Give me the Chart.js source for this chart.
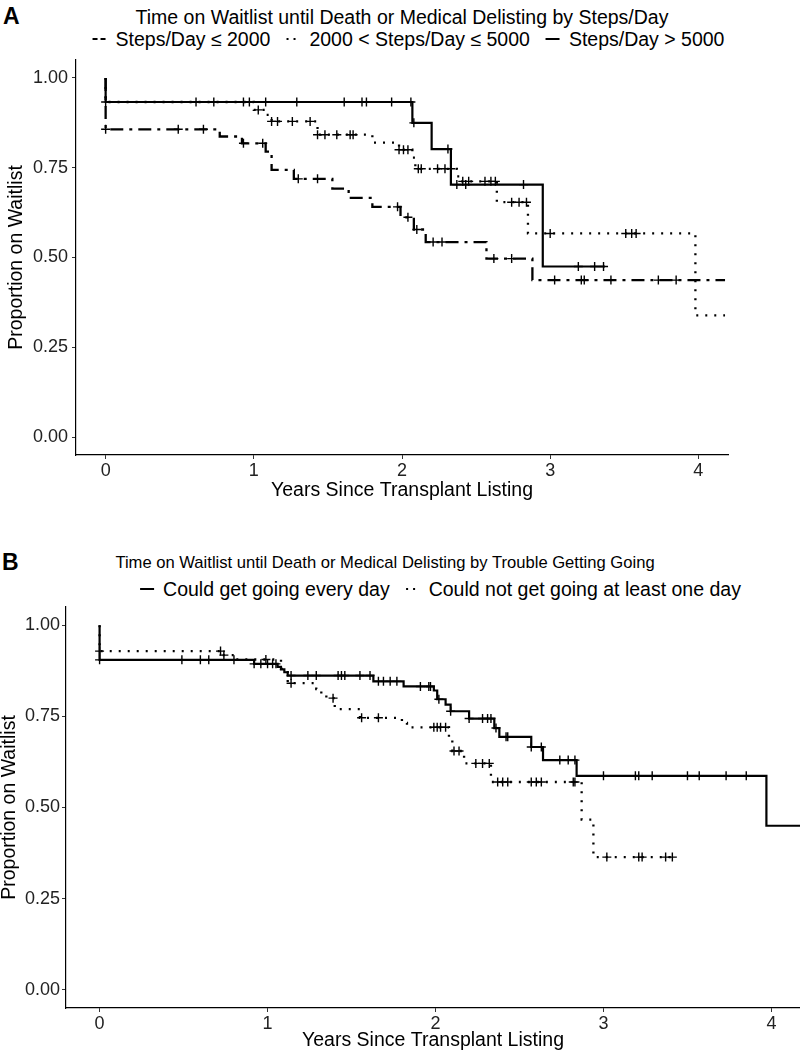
<!DOCTYPE html>
<html>
<head>
<meta charset="utf-8">
<script src="https://cdn.jsdelivr.net/npm/chart.js@4.4.1/dist/chart.umd.min.js"></script>
<style>
  body { margin: 0; width: 800px; height: 1052px; position: relative; background: #fff; overflow: hidden;
         font-family: "Liberation Sans", Arial, sans-serif; color: #000; }
  .tag { position: absolute; font-weight: bold; font-size: 23px; line-height: 24px; }
  .title, .legend { position: absolute; font-size: 19.5px; line-height: 22px; white-space: nowrap; transform: translateX(-50%); }
  .legend { display: flex; align-items: center; }
  .legend svg { margin: 0 8px 0 15px; }
  .legend svg:first-child { margin-left: 0; }
  .panel { position: absolute; left: 0; }
</style>
</head>
<body>
<div class="tag" style="left:3px;top:4px">A</div>
<div class="title" style="left:402px;top:6px">Time on Waitlist until Death or Medical Delisting by Steps/Day</div>
<div class="legend" id="legendA" style="left:408px;top:28px"></div>
<div class="panel" style="top:0"><canvas id="chartA" width="800" height="500"></canvas></div>

<div class="tag" style="left:2px;top:550px">B</div>
<div class="title" style="left:385px;top:552px;font-size:16.6px">Time on Waitlist until Death or Medical Delisting by Trouble Getting Going</div>
<div class="legend" id="legendB" style="left:440px;top:578px"></div>
<div class="panel" style="top:540px"><canvas id="chartB" width="800" height="512"></canvas></div>

<script>
// ---- Panel A: steps/day ----
const lowTimes = [0, 0, 0.77, 0.92, 1.08, 1.12, 1.27, 1.53, 1.64, 1.80, 1.99, 2.08, 2.16, 2.57, 2.88, 4.18];
const lowSurv  = [1, 0.857, 0.837, 0.818, 0.795, 0.744, 0.719, 0.692, 0.666, 0.641, 0.612, 0.578, 0.543, 0.497, 0.437, 0.437];
const lowCensor = [0, 0.49, 0.66, 0.93, 1.06, 1.30, 1.43, 1.97, 2.04, 2.10, 2.21, 2.27, 2.62, 2.74, 3.03, 3.21, 3.23, 3.41, 3.73, 3.85];

const midTimes = [0, 0, 1.00, 1.08, 1.12, 1.43, 1.80, 1.98, 2.07, 2.09, 2.37, 2.39, 2.64, 2.85, 3.98, 4.18];
const midSurv  = [1, 0.933, 0.911, 0.897, 0.879, 0.842, 0.82, 0.80, 0.778, 0.747, 0.726, 0.712, 0.654, 0.567, 0.339, 0.339];
const midCensor = [0, 0.93, 0.97, 1.03, 1.12, 1.16, 1.26, 1.38, 1.43, 1.48, 1.56, 1.65, 1.67, 1.98, 2.01, 2.04,
                   2.11, 2.13, 2.24, 2.29, 2.33, 2.41, 2.45, 2.56, 2.60, 2.63, 2.74, 2.79, 2.84, 3.00, 3.51, 3.55, 3.58];

const highTimes = [0, 0, 2.07, 2.20, 2.33, 2.95, 3.37];
const highSurv  = [1, 0.933, 0.875, 0.802, 0.703, 0.475, 0.475];
const highCensor = [0.61, 0.73, 1.08, 1.29, 1.61, 1.73, 1.76, 1.93, 2.06, 2.08, 2.31, 2.37, 2.43, 2.82, 3.19, 3.30, 3.36];

// ---- Panel B: trouble getting going ----
const everyTimes = [0, 0, 0.92, 1.06, 1.08, 1.10, 1.12, 1.63, 1.81, 1.99, 2.01, 2.06, 2.09, 2.20, 2.35, 2.38, 2.57, 2.64, 2.84, 3.97, 4.17];
const everySurv  = [1, 0.905, 0.894, 0.886, 0.879, 0.871, 0.862, 0.846, 0.832, 0.821, 0.797, 0.782, 0.764, 0.744, 0.718, 0.694, 0.666, 0.63, 0.587, 0.45, 0.45];
const everyCensor = [0, 0.49, 0.60, 0.65, 0.80, 0.92, 0.96, 1.00, 1.03, 1.05, 1.14, 1.24, 1.29, 1.42, 1.44, 1.46, 1.55, 1.61,
                     1.66, 1.69, 1.73, 1.77, 1.91, 1.96, 1.97, 2.02, 2.09, 2.20, 2.28, 2.31, 2.33, 2.36, 2.42, 2.43, 2.57,
                     2.63, 2.74, 2.79, 2.83, 3.00, 3.19, 3.21, 3.29, 3.50, 3.57, 3.73, 3.85];

const notTimes = [0, 0, 0.73, 0.80, 1.08, 1.12, 1.29, 1.32, 1.35, 1.40, 1.55, 1.80, 1.83, 2.08, 2.10, 2.17, 2.33, 2.87, 2.94, 3.42];
const notSurv  = [1, 0.929, 0.918, 0.906, 0.88, 0.841, 0.825, 0.812, 0.80, 0.770, 0.746, 0.732, 0.72, 0.689, 0.655, 0.621, 0.570, 0.467, 0.364, 0.364];
const notCensor = [0, 0.72, 0.74, 0.99, 1.14, 1.39, 1.56, 1.66, 1.99, 2.01, 2.03, 2.06, 2.11, 2.14, 2.24, 2.28, 2.32, 2.37,
                   2.40, 2.43, 2.57, 2.60, 2.63, 2.82, 2.83, 3.02, 3.21, 3.23, 3.37, 3.41];

const xTicks = [0, 1, 2, 3, 4];
const yTicks = [0, 0.25, 0.5, 0.75, 1];

const SOLID = [];
const DOTTED = [2, 7];
const DOTDASH = [13, 6, 3, 6];

// value of a step curve at time t
function survAt(times, surv, t) {
  let v = surv[0];
  for (let i = 0; i < times.length; i++) {
    if (times[i] <= t) v = surv[i];
  }
  return v;
}

function curve(label, times, surv, dash, width) {
  return {
    type: "line",
    label: label,
    data: times.map((t, i) => ({ x: t, y: surv[i] })),
    borderColor: "#000",
    borderWidth: width,
    borderDash: dash,
    borderCapStyle: "butt",
    stepped: true,
    pointRadius: 0,
    fill: false,
  };
}

function censor(times, surv, marks) {
  return {
    type: "scatter",
    data: marks.map((t) => ({ x: t, y: survAt(times, surv, t) })),
    pointStyle: "cross",
    pointRadius: 4.5,
    borderColor: "#000",
    borderWidth: 1.4,
    showLine: false,
  };
}

function buildChart(id, datasets, opts) {
  const tickFont = { family: "Liberation Sans", size: 18 };
  const titleFont = { family: "Liberation Sans", size: 19.5, lineHeight: 1 };
  return new Chart(document.getElementById(id), {
    data: { datasets: datasets },
    options: {
      responsive: false,
      animation: false,
      events: [],
      layout: { autoPadding: false, padding: { top: opts.top, right: opts.right, left: 0, bottom: 0 } },
      plugins: { legend: { display: false }, tooltip: { enabled: false } },
      scales: {
        x: {
          type: "linear",
          min: -0.2,
          max: opts.xMax,
          afterBuildTicks: (s) => { s.ticks = xTicks.map((v) => ({ value: v })); },
          afterFit: (s) => { s.height = opts.xHeight; s.paddingLeft = 0; s.paddingRight = 0; },
          grid: { display: true, drawOnChartArea: false, drawTicks: true, tickLength: 4, color: "#333" },
          border: { display: true, color: "#000", width: 1.2 },
          ticks: { font: tickFont, color: "#222", padding: 1, maxRotation: 0 },
          title: { display: true, text: "Years Since Transplant Listing", font: titleFont, color: "#000", padding: { top: 0, bottom: opts.xTitlePad } },
        },
        y: {
          type: "linear",
          min: -0.05,
          max: 1.05,
          afterBuildTicks: (s) => { s.ticks = yTicks.map((v) => ({ value: v })); },
          afterFit: (s) => { s.width = opts.yWidth; },
          grid: { display: true, drawOnChartArea: false, drawTicks: true, tickLength: 4, color: "#333" },
          border: { display: true, color: "#000", width: 1.2 },
          ticks: { font: tickFont, color: "#222", padding: opts.yTickPad, callback: (v) => v.toFixed(2) },
          title: { display: true, text: "Proportion on Waitlist", font: titleFont, color: "#000", padding: { top: opts.yTitlePad, bottom: 0 } },
        },
      },
    },
  });
}

// legend keys as small svg lines
function legendKey(dash, width) {
  const d = dash.length ? `stroke-dasharray="${dash.join(" ")}"` : "";
  return `<svg width="16" height="10"><line x1="1" y1="5" x2="15" y2="5" stroke="#000" stroke-width="${width}" ${d}/></svg>`;
}

function buildLegend(id, items) {
  let html = "";
  items.forEach((it) => {
    html += legendKey(it.dash, it.width) + `<span>${it.label}</span>`;
  });
  document.getElementById(id).innerHTML = html;
}

buildLegend("legendA", [
  { label: "Steps/Day ≤ 2000", dash: [5, 3], width: 2 },
  { label: "2000 &lt; Steps/Day ≤ 5000", dash: [2, 5], width: 2 },
  { label: "Steps/Day &gt; 5000", dash: SOLID, width: 2 },
]);
buildLegend("legendB", [
  { label: "Could get going every day", dash: SOLID, width: 2 },
  { label: "Could not get going at least one day", dash: [2, 5], width: 2 },
]);

buildChart("chartA", [
  curve("Steps/Day ≤ 2000", lowTimes, lowSurv, DOTDASH, 2.3),
  curve("2000 < Steps/Day ≤ 5000", midTimes, midSurv, DOTTED, 2.3),
  curve("Steps/Day > 5000", highTimes, highSurv, SOLID, 2.2),
  censor(lowTimes, lowSurv, lowCensor),
  censor(midTimes, midSurv, midCensor),
  censor(highTimes, highSurv, highCensor),
], { top: 60, right: 72, xMax: 4.2, xHeight: 45, yWidth: 76, yTickPad: 4, yTitlePad: 7, xTitlePad: 0 });

buildChart("chartB", [
  curve("Could get going every day", everyTimes, everySurv, SOLID, 2.2),
  curve("Could not get going at least one day", notTimes, notSurv, DOTTED, 2.3),
  censor(everyTimes, everySurv, everyCensor),
  censor(notTimes, notSurv, notCensor),
], { top: 67, right: 0, xMax: 4.17, xHeight: 44, yWidth: 66, yTickPad: 2, yTitlePad: 0, xTitlePad: 2 });
</script>
</body>
</html>
